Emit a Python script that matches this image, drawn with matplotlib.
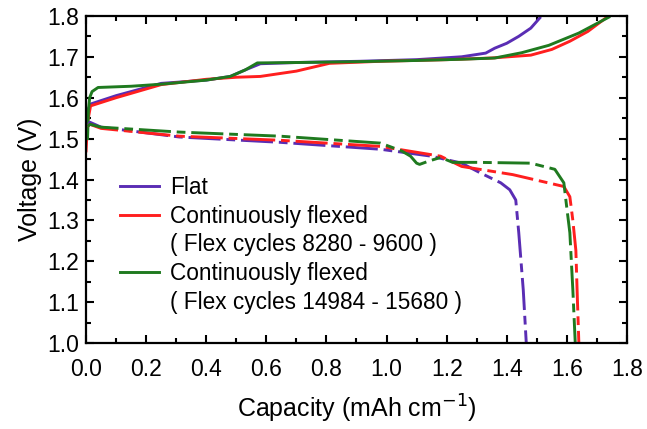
import matplotlib.pyplot as plt
from matplotlib.lines import Line2D
from matplotlib.ticker import MultipleLocator

plt.rcParams['font.family'] = ['Liberation Sans', 'DejaVu Sans']

# ---------------------------------------------------------------
# data (capacity in mAh cm^-1, voltage in V)
# ---------------------------------------------------------------
# charge (solid)
flat_chg_x = [0.0, 0.005, 0.017, 0.1, 0.25, 0.4, 0.48, 0.53, 0.58, 0.7, 0.91, 1.1, 1.25, 1.33, 1.36, 1.4, 1.44, 1.48, 1.51]
flat_chg_y = [1.54, 1.57, 1.585, 1.605, 1.635, 1.643, 1.652, 1.668, 1.683, 1.686, 1.689, 1.693, 1.700, 1.709, 1.721, 1.733, 1.750, 1.770, 1.795]

red_chg_x = [0.0, 0.005, 0.015, 0.1, 0.25, 0.4, 0.5, 0.58, 0.7, 0.81, 0.98, 1.2, 1.35, 1.48, 1.55, 1.61, 1.67, 1.73]
red_chg_y = [1.47, 1.54, 1.58, 1.60, 1.632, 1.645, 1.650, 1.652, 1.665, 1.684, 1.689, 1.693, 1.697, 1.704, 1.718, 1.738, 1.762, 1.795]

green_chg_x = [0.005, 0.008, 0.012, 0.02, 0.04, 0.15, 0.25, 0.4, 0.48, 0.53, 0.57, 0.7, 0.9, 1.1, 1.25, 1.36, 1.45, 1.54, 1.64, 1.74]
green_chg_y = [1.50, 1.57, 1.60, 1.615, 1.625, 1.628, 1.633, 1.643, 1.652, 1.668, 1.685, 1.686, 1.688, 1.691, 1.694, 1.697, 1.710, 1.728, 1.758, 1.797]

# discharge (dash-dot)
flat_dis_x = [0.005, 0.013, 0.05, 0.31, 0.645, 0.98, 1.15, 1.25, 1.31, 1.38, 1.41, 1.43, 1.44, 1.455, 1.465]
flat_dis_y = [1.53, 1.54, 1.528, 1.504, 1.491, 1.474, 1.457, 1.440, 1.417, 1.392, 1.375, 1.35, 1.27, 1.13, 1.0]

red_dis_x = [0.005, 0.013, 0.05, 0.31, 0.645, 0.98, 1.18, 1.25, 1.42, 1.59, 1.61, 1.62, 1.63, 1.635, 1.64]
red_dis_y = [1.53, 1.535, 1.525, 1.506, 1.496, 1.481, 1.457, 1.432, 1.412, 1.383, 1.358, 1.30, 1.227, 1.11, 1.0]

green_dis_x = [0.005, 0.013, 0.05, 0.31, 0.645, 0.98, 1.05, 1.08, 1.1, 1.11, 1.14, 1.18, 1.22, 1.3, 1.48, 1.56, 1.59, 1.60, 1.61, 1.62, 1.628]
green_dis_y = [1.53, 1.535, 1.528, 1.516, 1.506, 1.489, 1.47, 1.457, 1.44, 1.437, 1.445, 1.454, 1.442, 1.442, 1.440, 1.425, 1.392, 1.33, 1.27, 1.13, 1.0]

labels = ['Flat',
          'Continuously flexed', '( Flex cycles 8280 - 9600 )',
          'Continuously flexed', '( Flex cycles 14984 - 15680 )']

c_flat = '#5a2db4'
c_red = '#ff1f1f'
c_green = '#1f7a1f'

dashdot = (0, (11, 2, 3, 2))

fig = plt.figure(figsize=(6.47, 4.29), dpi=100)
ax = fig.add_axes([0.133, 0.200, 0.836, 0.763])

lw = 2.1
ax.plot(flat_chg_x, flat_chg_y, color=c_flat, lw=lw)
ax.plot(red_chg_x, red_chg_y, color=c_red, lw=lw)
ax.plot(green_chg_x, green_chg_y, color=c_green, lw=lw)
ax.plot(flat_dis_x, flat_dis_y, color=c_flat, lw=lw, ls=dashdot)
ax.plot(red_dis_x, red_dis_y, color=c_red, lw=lw, ls=dashdot)
ax.plot(green_dis_x, green_dis_y, color=c_green, lw=lw, ls=dashdot)

ax.set_xlim(0, 1.8)
ax.set_ylim(1.0, 1.8)
ax.xaxis.set_major_locator(MultipleLocator(0.2))
ax.xaxis.set_minor_locator(MultipleLocator(0.1))
ax.yaxis.set_major_locator(MultipleLocator(0.1))
ax.yaxis.set_minor_locator(MultipleLocator(0.05))
ax.tick_params(which='both', direction='in', top=True, right=True, width=1.5)
ax.tick_params(which='major', length=6, labelsize=16.5)
ax.tick_params(which='minor', length=3.5)
ax.tick_params(axis='x', which='major', pad=11)
ax.tick_params(axis='y', which='major', pad=5)
ax.set_xticklabels(['%.1f' % v for v in ax.get_xticks()])
for s in ax.spines.values():
    s.set_linewidth(1.6)

ax.set_xlabel('Capacity (mAh cm$^{-1}$)', fontsize=18, labelpad=8)
ax.set_ylabel('Voltage (V)', fontsize=18, labelpad=4)

handles = [Line2D([], [], color=c_flat, lw=lw),
           Line2D([], [], color=c_red, lw=lw),
           Line2D([], [], color='none'),
           Line2D([], [], color=c_green, lw=lw),
           Line2D([], [], color='none')]
ax.legend(handles, labels, loc='upper left', bbox_to_anchor=(0.042, 0.545),
          frameon=False, fontsize=16.3, handlelength=1.7, handletextpad=0.5,
          labelspacing=0.25, borderpad=0)

fig.savefig('out.png', dpi=100)
